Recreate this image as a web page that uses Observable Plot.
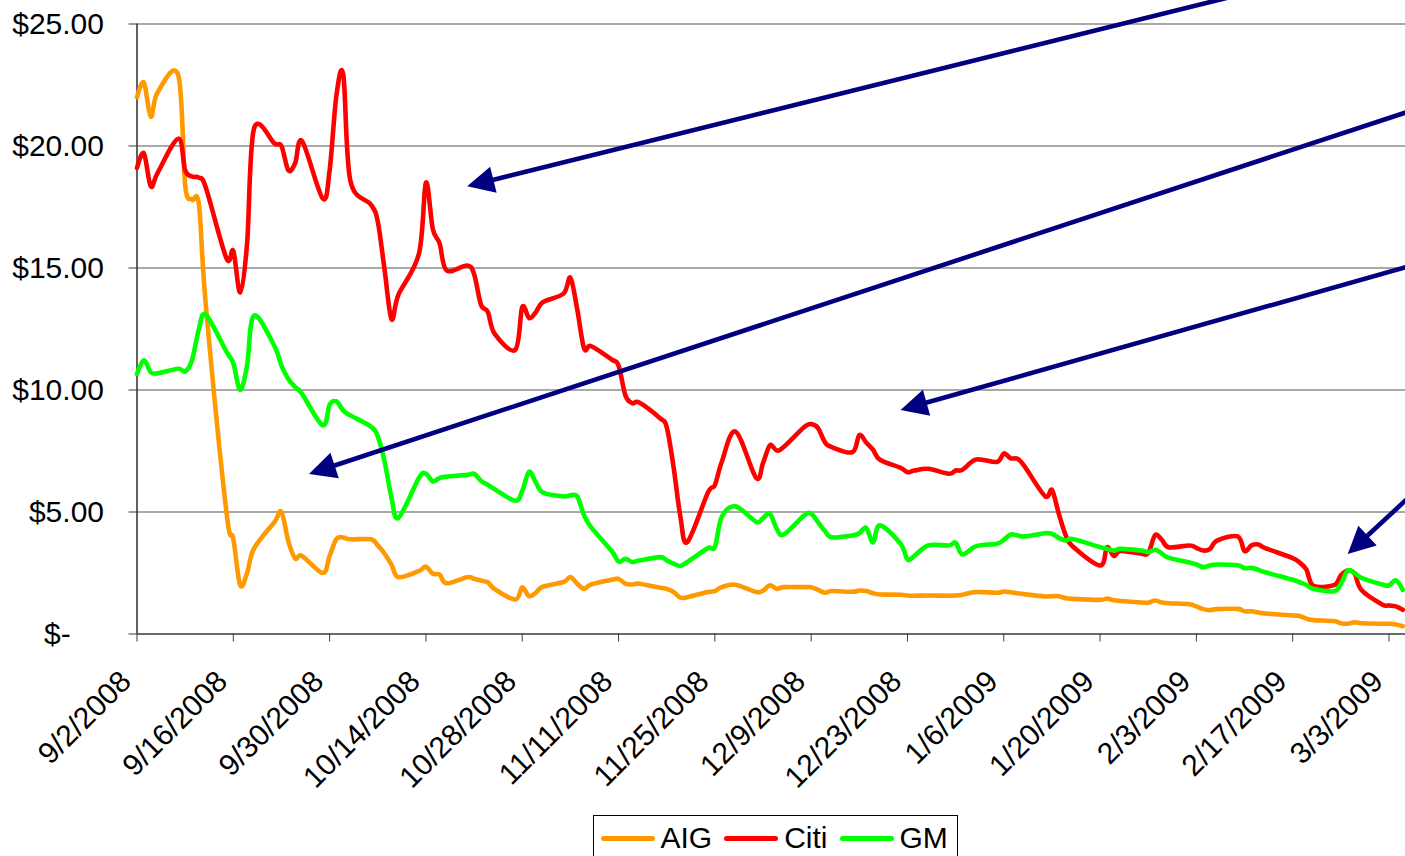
<!DOCTYPE html>
<html>
<head>
<meta charset="utf-8">
<script src="https://cdn.jsdelivr.net/npm/d3@7"></script>
<script src="https://cdn.jsdelivr.net/npm/@observablehq/plot@0.6"></script>
<style>
  html, body { margin: 0; padding: 0; background: #fff; overflow: hidden; }
  #chart { position: relative; width: 1405px; height: 856px; overflow: hidden; font-family: "Liberation Sans", Arial, sans-serif; }
  #chart svg { display: block; }
  .legend { position: absolute; left: 593px; top: 815px; display: flex; align-items: center;
            border: 1px solid #000; padding: 5px 9px 14px 6.5px; background: #fff;
            font-size: 30px; line-height: 34px; color: #000; }
  .legend .item { display: flex; align-items: center; }
  .legend .item + .item { margin-left: 12px; }
  .legend .swatch { width: 54px; height: 5px; border-radius: 3px; margin-right: 6px; }
</style>
</head>
<body>
<div id="chart"></div>
<script>
// Trading days, 2 Sep 2008 – 5 Mar 2009
const tradingDays = [
  "2008-09-02","2008-09-03","2008-09-04","2008-09-05","2008-09-08","2008-09-09","2008-09-10","2008-09-11","2008-09-12",
  "2008-09-15","2008-09-16","2008-09-17","2008-09-18","2008-09-19","2008-09-22","2008-09-23","2008-09-24","2008-09-25",
  "2008-09-26","2008-09-29","2008-09-30",
  "2008-10-01","2008-10-02","2008-10-03","2008-10-06","2008-10-07","2008-10-08","2008-10-09","2008-10-10","2008-10-13",
  "2008-10-14","2008-10-15","2008-10-16","2008-10-17","2008-10-20","2008-10-21","2008-10-22","2008-10-23","2008-10-24",
  "2008-10-27","2008-10-28","2008-10-29","2008-10-30","2008-10-31",
  "2008-11-03","2008-11-04","2008-11-05","2008-11-06","2008-11-07","2008-11-10","2008-11-11","2008-11-12","2008-11-13",
  "2008-11-14","2008-11-17","2008-11-18","2008-11-19","2008-11-20","2008-11-21","2008-11-24","2008-11-25","2008-11-26",
  "2008-11-28",
  "2008-12-01","2008-12-02","2008-12-03","2008-12-04","2008-12-05","2008-12-08","2008-12-09","2008-12-10","2008-12-11",
  "2008-12-12","2008-12-15","2008-12-16","2008-12-17","2008-12-18","2008-12-19","2008-12-22","2008-12-23","2008-12-24",
  "2008-12-26","2008-12-29","2008-12-30","2008-12-31",
  "2009-01-02","2009-01-05","2009-01-06","2009-01-07","2009-01-08","2009-01-09","2009-01-12","2009-01-13","2009-01-14",
  "2009-01-15","2009-01-16","2009-01-20","2009-01-21","2009-01-22","2009-01-23","2009-01-26","2009-01-27","2009-01-28",
  "2009-01-29","2009-01-30",
  "2009-02-02","2009-02-03","2009-02-04","2009-02-05","2009-02-06","2009-02-09","2009-02-10","2009-02-11","2009-02-12",
  "2009-02-13","2009-02-17","2009-02-18","2009-02-19","2009-02-20","2009-02-23","2009-02-24","2009-02-25","2009-02-26",
  "2009-02-27",
  "2009-03-02","2009-03-03","2009-03-04","2009-03-05"
];

// Closing prices, one per trading day (USD)
const aig = [
  22.0, 22.6, 21.2, 22.2, 22.9, 18.4, 17.8, 17.6, 13.5, 5.0, 3.9, 2.0, 2.5, 3.5, 4.6, 5.0, 3.8, 3.1, 3.2, 2.5, 3.2,
  3.9, 3.95, 3.88, 3.88, 3.63, 3.29, 2.84, 2.33, 2.59, 2.76, 2.47, 2.43, 2.08, 2.33, 2.26, 2.19, 2.12, 1.84, 1.41, 1.91, 1.55, 1.7, 1.94,
  2.13, 2.33, 2.06, 1.85, 2.03, 2.22, 2.26, 2.06, 2.03, 2.06, 1.9, 1.85, 1.72, 1.49, 1.51, 1.72, 1.76, 1.92, 2.02,
  1.72, 1.78, 2.0, 1.85, 1.92, 1.92, 1.92, 1.81, 1.69, 1.76, 1.73, 1.78, 1.76, 1.67, 1.62, 1.61, 1.58, 1.57, 1.58, 1.57, 1.58, 1.61,
  1.72, 1.69, 1.74, 1.71, 1.67, 1.63, 1.54, 1.55, 1.55, 1.47, 1.44, 1.4, 1.45, 1.38, 1.35, 1.29, 1.28, 1.37, 1.29, 1.26,
  1.22, 1.13, 1.02, 0.98, 1.02, 1.03, 0.93, 0.93, 0.88, 0.84, 0.76, 0.74, 0.63, 0.57, 0.53, 0.44, 0.42, 0.48, 0.44,
  0.42, 0.42, 0.39, 0.32
];
const citi = [
  19.1, 19.7, 18.35, 18.9, 20.3, 19.0, 18.75, 18.7, 18.3, 15.4, 15.7, 14.0, 16.0, 20.7, 20.1, 20.0, 19.0, 19.3, 20.2, 17.85, 19.0,
  22.1, 22.9, 18.6, 17.6, 16.9, 14.9, 12.9, 13.9, 15.6, 18.5, 16.6, 16.0, 14.9, 15.1, 14.75, 13.5, 13.2, 12.3, 11.65, 13.4, 12.95, 13.2, 13.6,
  13.95, 14.6, 13.3, 11.7, 11.8, 11.25, 11.0, 9.78, 9.46, 9.49, 8.85, 8.48, 6.84, 4.79, 3.77, 5.8, 6.1, 7.05, 8.3,
  6.4, 7.0, 7.73, 7.52, 7.66, 8.48, 8.6, 8.44, 7.86, 7.66, 7.45, 8.15, 7.85, 7.55, 7.14, 6.81, 6.63, 6.7, 6.77, 6.57, 6.7, 6.73,
  7.15, 7.05, 7.4, 7.2, 7.18, 6.88, 5.65, 5.9, 4.93, 4.05, 3.6, 2.81, 3.55, 3.2, 3.4, 3.29, 3.31, 4.05, 3.85, 3.55,
  3.63, 3.53, 3.42, 3.49, 3.83, 4.0, 3.4, 3.63, 3.67, 3.52, 3.11, 2.93, 2.64, 1.98, 2.0, 2.4, 2.6, 2.48, 1.8,
  1.21, 1.17, 1.13, 0.99
];
const gm = [
  10.66, 11.22, 10.73, 10.69, 10.87, 10.76, 11.22, 12.5, 13.09, 11.57, 11.1, 10.0, 11.0, 13.05, 11.79, 11.0, 10.45, 10.12, 9.84, 8.55, 9.4,
  9.53, 9.15, 8.96, 8.5, 8.1, 7.06, 5.58, 4.76, 6.4, 6.57, 6.25, 6.4, 6.45, 6.52, 6.57, 6.28, 6.11, 5.93, 5.46, 5.86, 6.65, 6.2, 5.8,
  5.64, 5.68, 5.64, 4.86, 4.38, 3.4, 2.97, 3.08, 2.95, 3.01, 3.15, 3.02, 2.88, 2.79, 2.95, 3.52, 3.56, 4.8, 5.23,
  4.6, 4.75, 4.93, 4.31, 4.08, 4.86, 4.93, 4.58, 4.22, 3.96, 4.04, 4.13, 4.35, 3.75, 4.45, 3.7, 3.05, 3.2, 3.63, 3.63, 3.74, 3.26,
  3.6, 3.7, 3.86, 4.08, 4.04, 4.0, 4.13, 4.11, 3.94, 3.83, 3.89, 3.56, 3.49, 3.42, 3.49, 3.42, 3.35, 3.45, 3.29, 3.12,
  2.93, 2.85, 2.74, 2.81, 2.85, 2.82, 2.7, 2.71, 2.63, 2.53, 2.22, 2.12, 2.01, 1.85, 1.75, 2.05, 2.6, 2.5, 2.3,
  2.03, 1.99, 2.2, 1.81
];

const seriesNames = ["AIG", "Citi", "GM"];
const seriesColors = ["#ff9900", "#ff0000", "#00ff00"];

const xTickLabels = ["9/2/2008", "9/16/2008", "9/30/2008", "10/14/2008", "10/28/2008", "11/11/2008", "11/25/2008",
                     "12/9/2008", "12/23/2008", "1/6/2009", "1/20/2009", "2/3/2009", "2/17/2009", "3/3/2009"];
const yTickValues = [0, 5, 10, 15, 20, 25];
const yTickLabels = ["$-", "$5.00", "$10.00", "$15.00", "$20.00", "$25.00"];

// Callout arrows: tail and head positions in data space
const arrowTailDates  = ["2009-02-09", "2009-03-07", "2009-03-07", "2009-03-07"];
const arrowTailValues = [26.18, 21.52, 15.16, 5.89];
const arrowHeadDates  = ["2008-10-20", "2008-09-27", "2008-12-22", "2009-02-25"];
const arrowHeadValues = [18.35, 6.56, 9.18, 3.28];

// ---- layout ----
const W = 1405, H = 812;
const plotLeft = 136.5, plotTop = 23.5, plotBottom = 633.5;
const xRange = [136.5, 1388.5];       // first tick → last tick
const navy = "#000080";
const axisColor = "#3a3a3a";
const lineWidth = 4.6;
const headLength = 27, headHalfWidth = 13.5;

const parseMDY = (s) => { const [m, d, y] = s.split("/").map(Number); return new Date(Date.UTC(y, m - 1, d)); };
const xTicks = xTickLabels.map(parseMDY);
const xDomain = [xTicks[0], xTicks[xTicks.length - 1]];

const rows = [];
[aig, citi, gm].forEach((vals, s) => {
  vals.forEach((v, i) => rows.push({series: seriesNames[s], date: new Date(tradingDays[i]), value: v}));
});

// Screen-space helpers matching the plot's scales, used to orient the arrowheads
const xs = d3.scaleUtc(xDomain, xRange);
const ys = d3.scaleLinear([0, 25], [plotBottom, plotTop]);
const arrows = arrowTailDates.map((td, i) => {
  const tail = {date: new Date(td), value: arrowTailValues[i]};
  const head = {date: new Date(arrowHeadDates[i]), value: arrowHeadValues[i]};
  const tx = xs(tail.date), ty = ys(tail.value), hx = xs(head.date), hy = ys(head.value);
  const dx = hx - tx, dy = hy - ty, len = Math.hypot(dx, dy);
  const back = headLength - 8;
  return {
    tailDate: tail.date, tailValue: tail.value,
    headDate: head.date, headValue: head.value,
    shaftDate: xs.invert(hx - dx / len * back), shaftValue: ys.invert(hy - dy / len * back),
    angle: Math.atan2(dx, -dy) * 180 / Math.PI
  };
});

const fmtX = (d) => xTickLabels[xTicks.findIndex((t) => +t === +d)];
const fmtY = (v) => { const s = yTickLabels[yTickValues.indexOf(v)]; return v === 0 ? s + "\u2007\u2007" : s; };

const chart = Plot.plot({
  width: W, height: H,
  marginLeft: plotLeft, marginRight: 0, marginTop: plotTop, marginBottom: H - plotBottom,
  x: {type: "utc", domain: xDomain, range: xRange, label: null},
  y: {domain: [0, 25], range: [plotBottom, plotTop], label: null},
  style: {fontFamily: "'Liberation Sans', Arial, sans-serif", fontSize: "30px", color: "#000", background: "#fff", overflow: "hidden"},
  marks: [
    Plot.gridY(yTickValues.filter((v) => v > 0), {stroke: "#555", strokeOpacity: 1, strokeWidth: 1.2}),
    Plot.ruleX([xDomain[0]], {stroke: axisColor, strokeWidth: 1.6}),
    Plot.ruleY([0], {stroke: axisColor, strokeWidth: 1.6}),
    Plot.axisY(yTickValues, {tickSize: 8, tickPadding: 25, tickFormat: fmtY, stroke: axisColor, fontSize: 30, label: null}),
    Plot.axisX(xTicks, {tickSize: 8, tickFormat: () => "", stroke: axisColor, label: null}),
    Plot.axisX(xTicks, {tickSize: 0, tickPadding: 42.5, tickRotate: -45, tickFormat: fmtX, dx: -11, fontSize: 30, label: null}),
    ...seriesNames.map((name, i) =>
      Plot.line(rows.filter((r) => r.series === name), {
        x: "date", y: "value", stroke: seriesColors[i], strokeWidth: lineWidth,
        curve: "cardinal", tension: 0, strokeLinejoin: "round", strokeLinecap: "round"
      })),
    Plot.link(arrows, {x1: "tailDate", y1: "tailValue", x2: "shaftDate", y2: "shaftValue", stroke: navy, strokeWidth: 4.6}),
    Plot.vector(arrows, {x: "headDate", y: "headValue", rotate: "angle", length: headLength, r: headHalfWidth,
                         shape: "spike", anchor: "end", fill: navy, stroke: "none"})
  ]
});

const root = document.getElementById("chart");
root.appendChild(chart);

// Legend below the plot
const legend = document.createElement("div");
legend.className = "legend";
seriesNames.forEach((name, i) => {
  const item = document.createElement("span");
  item.className = "item";
  const sw = document.createElement("span");
  sw.className = "swatch";
  sw.style.background = seriesColors[i];
  item.appendChild(sw);
  item.appendChild(document.createTextNode(name));
  legend.appendChild(item);
});
root.appendChild(legend);
</script>
</body>
</html>
